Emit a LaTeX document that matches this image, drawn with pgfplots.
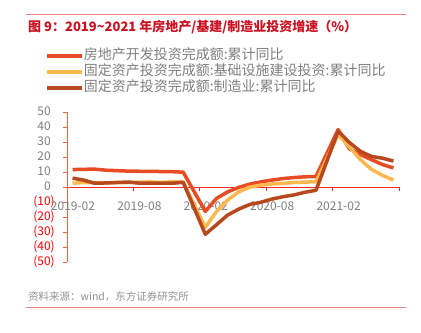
\documentclass[border=0pt]{standalone}
\usepackage{pgfplots}
\pgfplotsset{compat=1.18}
\usepackage{fontspec}
\setmainfont{Noto Sans CJK SC}
\definecolor{reC}{RGB}{232,76,34}
\definecolor{infC}{RGB}{255,184,77}
\definecolor{mfgC}{RGB}{184,72,30}
\definecolor{yaxC}{RGB}{240,100,60}
\definecolor{xaxC}{RGB}{255,40,40}
\definecolor{negred}{RGB}{255,0,0}
\definecolor{txtgray}{RGB}{128,128,128}
\definecolor{titlered}{RGB}{204,16,32}
\definecolor{rulepink}{RGB}{236,130,125}
\newcommand\neglab[1]{\textcolor{negred}{(#1)}}
\newcommand\poslab[1]{#1\phantom{)}}
\begin{document}
\begin{tikzpicture}
\useasboundingbox[fill=white] (0,0) rectangle (421bp,333bp);
\draw[rulepink, line width=1.2bp] (26bp,318.5bp) -- (406bp,318.5bp);
\node[anchor=west, inner sep=0pt, text=titlered, font=\bfseries\fontsize{13bp}{16bp}\selectfont] at (28bp,306bp) {图 9：2019\char`\~2021 年房地产/基建/制造业投资增速（\%）};
\draw[rulepink, line width=1bp] (26bp,25bp) -- (406bp,25bp);
\node[anchor=west, inner sep=0pt, text=txtgray!85, font=\fontsize{10.5bp}{12bp}\selectfont] at (28bp,36bp) {资料来源：wind，东方证券研究所};
\begin{axis}[
  at={(67bp,71bp)}, anchor=south west,
  scale only axis, width=332bp, height=150bp,
  xmin=0, xmax=30, ymin=-50, ymax=50,
  clip=false,
  axis x line*=middle, axis y line*=left,
  hide obscured x ticks=false,
  x axis line style={xaxC, line width=0.8bp, -},
  y axis line style={yaxC, line width=0.8bp, -},
  xtick={0,6,12,18,24,30},
  xticklabels={2019-02,2019-08,2020-02,2020-08,2021-02,{}},
  ytick={-50,-40,...,50},
  yticklabels={\neglab{50},\neglab{40},\neglab{30},\neglab{20},\neglab{10},\poslab{0},\poslab{10},\poslab{20},\poslab{30},\poslab{40},\poslab{50}},
  tick align=outside,
  major tick length=4bp,
  xtick style={xaxC, line width=0.8bp},
  ytick style={yaxC, line width=0.8bp},
  x tick label style={font=\fontsize{12bp}{14bp}\selectfont, text=txtgray, anchor=center, xshift=6bp, yshift=-15bp, inner sep=0pt},
  y tick label style={font=\fontsize{12bp}{14bp}\selectfont, text=txtgray, anchor=east, inner sep=0pt, xshift=-8bp},
  legend style={at={(-0.066,1.42)}, anchor=north west, draw=none, fill=none, inner sep=0pt,
    font=\fontsize{14bp}{16bp}\selectfont, text=txtgray,
    row sep=2bp, column sep=0pt,
    nodes={inner sep=0pt, text height=10.5bp, text depth=3.5bp, right}},
  legend cell align=left,
  legend image code/.code={\draw[#1, line width=3.5bp] (0bp,0bp) -- (33bp,0bp); \path (0bp,0bp) -- (35bp,0bp);},
  every axis plot/.append style={line width=3.5bp, line join=round, no markers},
]
\addplot[reC] coordinates {
(0.5,11.6)(1.5,11.8)(2.5,11.9)(3.5,11.2)(4.5,10.9)(5.5,10.6)(6.5,10.5)(7.5,10.5)(8.5,10.3)(9.5,10.2)(10.5,9.9)
(12.5,-16.3)(13.5,-7.7)(14.5,-3.3)(15.5,-0.3)(16.5,1.9)(17.5,3.4)(18.5,4.6)(19.5,5.6)(20.5,6.3)(21.5,6.8)(22.5,7.0)
(24.5,38.3)(25.5,25.6)(26.5,21.6)(27.5,18.3)(28.5,15.0)(29.5,12.7)};
\addlegendentry{房地产开发投资完成额:累计同比}
\addplot[infC] coordinates {
(0.5,2.5)(1.5,3.0)(2.5,3.0)(3.5,2.6)(4.5,2.9)(5.5,3.0)(6.5,3.2)(7.5,3.4)(8.5,3.0)(9.5,3.5)(10.5,3.3)
(12.5,-26.9)(13.5,-16.4)(14.5,-8.8)(15.5,-3.3)(16.5,-0.1)(17.5,1.2)(18.5,2.0)(19.5,2.4)(20.5,3.0)(21.5,3.3)(22.5,3.4)
(24.5,35.0)(25.5,26.8)(26.5,18.4)(27.5,11.8)(28.5,7.8)(29.5,4.6)};
\addlegendentry{固定资产投资完成额:基础设施建设投资:累计同比}
\addplot[mfgC] coordinates {
(0.5,5.9)(1.5,4.6)(2.5,2.5)(3.5,2.7)(4.5,3.0)(5.5,3.3)(6.5,2.6)(7.5,2.5)(8.5,2.6)(9.5,2.5)(10.5,3.1)
(12.5,-31.5)(13.5,-25.2)(14.5,-18.8)(15.5,-14.8)(16.5,-11.7)(17.5,-10.2)(18.5,-8.1)(19.5,-6.5)(20.5,-5.3)(21.5,-3.5)(22.5,-2.2)
(24.5,37.3)(25.5,29.8)(26.5,23.8)(27.5,20.4)(28.5,19.2)(29.5,17.3)};
\addlegendentry{固定资产投资完成额:制造业:累计同比}
\end{axis}
\end{tikzpicture}
\end{document}
